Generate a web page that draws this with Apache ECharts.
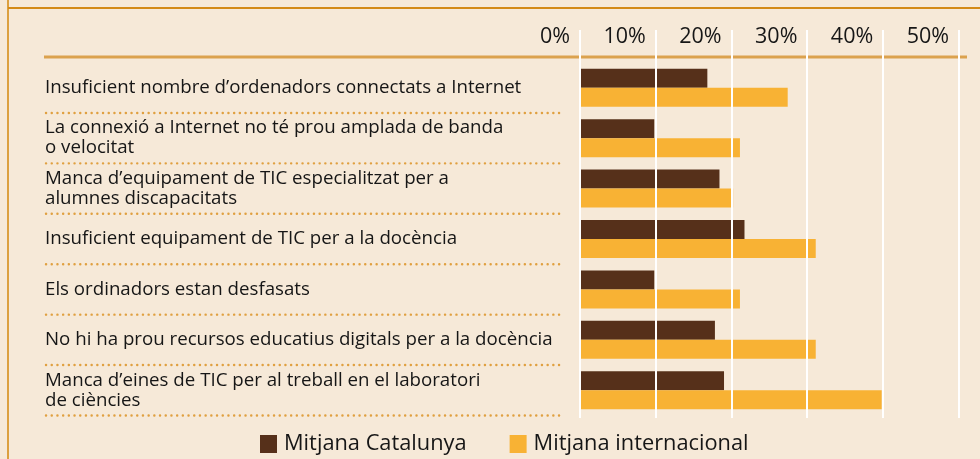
<!DOCTYPE html>
<html>
<head>
<meta charset="utf-8">
<script src="https://cdn.jsdelivr.net/npm/echarts@6/dist/echarts.min.js"></script>
<style>
  html, body { margin: 0; padding: 0; background: #f6e9d8; }
  #chart { width: 980px; height: 459px; }
</style>
</head>
<body>
<div id="chart"></div>
<script>
// Obstacles to ICT use at school: share of students (%)
const categories = [
  'Insuficient nombre d’ordenadors connectats a Internet',
  'La connexió a Internet no té prou amplada de banda\no velocitat',
  'Manca d’equipament de TIC especialitzat per a\nalumnes discapacitats',
  'Insuficient equipament de TIC per a la docència',
  'Els ordinadors estan desfasats',
  'No hi ha prou recursos educatius digitals per a la docència',
  'Manca d’eines de TIC per al treball en el laboratori\nde ciències'
];
const seriesNames = ['Mitjana Catalunya', 'Mitjana internacional'];
const catalunya = [16.8, 9.8, 18.4, 21.7, 9.8, 17.8, 19.0];
const internacional = [27.4, 21.1, 20.2, 31.1, 21.1, 31.1, 39.8];
const tickValues = [0, 10, 20, 30, 40, 50];

const FONT = '"Open Sans", "Noto Sans", sans-serif';
const chart = echarts.init(document.getElementById('chart'), null, { renderer: 'canvas' });

chart.setOption({
  backgroundColor: '#f6e9d8',
  animation: false,
  grid: { left: 580, right: 21, top: 62.5, bottom: 43.5 },
  legend: {
    data: seriesNames,
    left: 255,
    top: 428,
    icon: 'rect',
    itemWidth: 17,
    itemHeight: 18,
    itemGap: 43,
    textStyle: { fontFamily: FONT, fontSize: 21.8, color: '#161616', padding: [0, 0, 0, 2] }
  },
  xAxis: {
    type: 'value',
    position: 'top',
    min: tickValues[0],
    max: tickValues[tickValues.length - 1],
    interval: 10,
    axisLine: { show: false },
    axisTick: { show: false },
    splitLine: { show: false },
    axisLabel: {
      formatter: '{value}%',
      align: 'right',
      padding: [0, 10, 0, 0],
      margin: 15,
      fontFamily: FONT,
      fontSize: 21.5,
      color: '#161616'
    }
  },
  yAxis: {
    type: 'category',
    inverse: true,
    data: categories,
    axisLine: { show: false },
    axisTick: { show: false },
    axisLabel: {
      align: 'left',
      margin: 535,
      fontFamily: FONT,
      fontSize: 18.7,
      lineHeight: 20,
      padding: [0, 0, 2, 0],
      color: '#161616'
    }
  },
  series: [
    {
      name: seriesNames[0],
      type: 'bar',
      data: catalunya,
      barWidth: 19,
      barGap: '0%',
      itemStyle: { color: '#56301a' }
    },
    {
      name: seriesNames[1],
      type: 'bar',
      data: internacional,
      barWidth: 19,
      itemStyle: { color: '#f8b234' }
    }
  ]
});

// Frame, header rule, white gridlines over the bars and dotted row separators
function drawDecor() {
  const W = chart.getWidth();
  const H = chart.getHeight();
  const els = [];
  els.push({ type: 'line', shape: { x1: 8, y1: 0, x2: 8, y2: H }, style: { stroke: '#dca040', lineWidth: 2 }, z: 50 });
  els.push({ type: 'line', shape: { x1: 8, y1: 8, x2: W, y2: 8 }, style: { stroke: '#d48a16', lineWidth: 2 }, z: 50 });
  els.push({ type: 'line', shape: { x1: 44, y1: 57, x2: 967, y2: 57 }, style: { stroke: '#dba24e', lineWidth: 3 }, z: 50 });

  tickValues.forEach(function (v) {
    const x = Math.round(chart.convertToPixel({ xAxisIndex: 0 }, v));
    els.push({ type: 'line', shape: { x1: x, y1: 30, x2: x, y2: 418 }, style: { stroke: '#ffffff', lineWidth: 2 }, z: 60 });
  });

  const centers = categories.map(function (c, i) { return chart.convertToPixel({ yAxisIndex: 0 }, i); });
  const band = centers[1] - centers[0];
  centers.forEach(function (cy) {
    const y = cy + band / 2;
    els.push({
      type: 'line',
      shape: { x1: 46, y1: y, x2: 563, y2: y },
      style: { stroke: '#e0a040', lineWidth: 2.4, lineDash: [0.1, 5.6], lineCap: 'round' },
      z: 50
    });
  });
  chart.setOption({ graphic: { elements: els } });
}
drawDecor();
</script>
</body>
</html>
